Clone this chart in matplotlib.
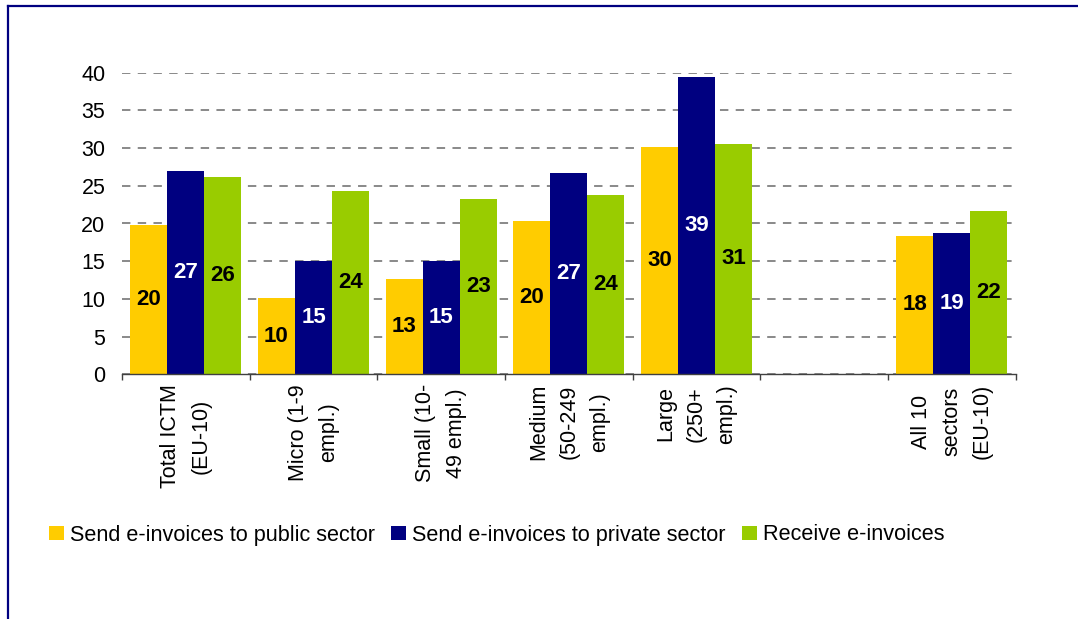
import numpy as np
import matplotlib
matplotlib.use("Agg")
import matplotlib.pyplot as plt
from matplotlib.lines import Line2D

plt.rcParams["font.family"] = ["Liberation Sans", "DejaVu Sans"]

categories = [
    "Total ICTM\n(EU-10)",
    "Micro (1-9\nempl.)",
    "Small (10-\n49 empl.)",
    "Medium\n(50-249\nempl.)",
    "Large\n(250+\nempl.)",
    "",
    "All 10\nsectors\n(EU-10)",
]
series_names = [
    "Send e-invoices to public sector",
    "Send e-invoices to private sector",
    "Receive e-invoices",
]
public_sector = [19.8, 10.1, 12.6, 20.3, 30.1, np.nan, 18.4]
private_sector = [26.9, 15.0, 15.0, 26.7, 39.4, np.nan, 18.7]
receive = [26.2, 24.3, 23.3, 23.8, 30.6, np.nan, 21.7]
yticks = [0, 5, 10, 15, 20, 25, 30, 35, 40]

colors = ["#FFCC00", "#000080", "#99CC00"]
label_colors = ["black", "white", "black"]

W, H = 1078, 619
fig = plt.figure(figsize=(W / 100, H / 100), dpi=100)
ax = fig.add_axes([122 / W, 1 - 374.3 / H, (1015.7 - 122) / W, (374.3 - 72.7) / H])

x = np.arange(len(categories))
width = 0.29
for i, (vals, name) in enumerate(zip([public_sector, private_sector, receive], series_names)):
    vals = np.asarray(vals, dtype=float)
    pos = x + (i - 1) * width
    ok = ~np.isnan(vals)
    ax.bar(pos[ok], vals[ok], width=width, color=colors[i], label=name, zorder=2)
    for px, v in zip(pos[ok], vals[ok]):
        ax.text(px, v / 2, f"{int(v + 0.5)}", ha="center", va="center",
                fontsize=16, fontweight="bold", color=label_colors[i], zorder=3)

ax.set_xlim(-0.5, len(categories) - 0.5)
ax.set_ylim(0, 40)
ax.set_yticks(yticks)
ax.yaxis.grid(True, color="#6a6a6a", linewidth=1.1, linestyle=(0, (5.5, 4.8)), zorder=0)
ax.set_axisbelow(True)

for side in ["left", "right", "top"]:
    ax.spines[side].set_visible(False)
ax.spines["bottom"].set_color("#404040")
ax.spines["bottom"].set_linewidth(1.0)

ax.tick_params(axis="y", length=0, pad=12, labelsize=15.5)
ax.set_xticks(x)
ax.set_xticklabels(categories, rotation=90, ha="center", va="top",
                   fontsize=15.5, linespacing=1.6, multialignment="center")
ax.tick_params(axis="x", which="major", length=0, pad=7)
ax.set_xticks(np.arange(-0.5, len(categories)), minor=True)
ax.tick_params(axis="x", which="minor", length=4, width=1, color="#404040", direction="out")

fig.legend(loc="center left", bbox_to_anchor=(49 / W, 1 - 535 / H), ncol=3,
           frameon=False, fontsize=15.6, handlelength=0.69, handleheight=0.65,
           handletextpad=0.28, columnspacing=0.74, borderpad=0, borderaxespad=0)

# navy frame along top and left edges
fig.add_artist(Line2D([8 / W, 8 / W], [0, 1 - 5.5 / H], transform=fig.transFigure,
                      color="#000080", linewidth=1.6))
fig.add_artist(Line2D([8 / W, 1], [1 - 5.5 / H, 1 - 5.5 / H], transform=fig.transFigure,
                      color="#000080", linewidth=1.6))

fig.savefig("out.png", dpi=100)
